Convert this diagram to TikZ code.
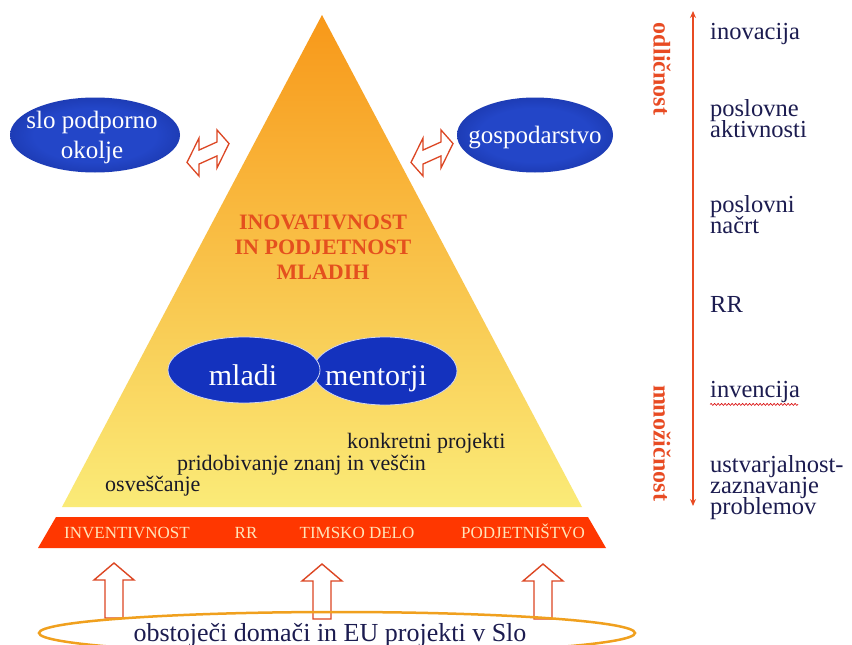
\documentclass[tikz,border=0pt]{standalone}
\usepackage{fontspec}
\setmainfont{Liberation Serif}
\usetikzlibrary{arrows.meta,decorations.pathmorphing,shapes.geometric}
\definecolor{triTop}{RGB}{248,152,25}
\definecolor{triBot}{RGB}{250,235,120}
\definecolor{bandRed}{RGB}{255,55,0}
\definecolor{bandTxt}{RGB}{255,228,185}
\definecolor{blueC}{RGB}{35,70,200}
\definecolor{blueE}{RGB}{10,25,115}
\definecolor{blueSolid}{RGB}{20,50,190}
\definecolor{arrRed}{RGB}{220,70,35}
\definecolor{lineRed}{RGB}{232,75,35}
\definecolor{titleRed}{RGB}{228,80,30}
\definecolor{navyTxt}{RGB}{28,28,80}
\definecolor{darkTxt}{RGB}{25,25,40}
\definecolor{ringOr}{RGB}{240,160,30}
\pgfdeclareradialshading{blueglow}{\pgfpoint{0bp}{0bp}}{color(0bp)=(blueC); color(18bp)=(blueC); color(50bp)=(blueE)}
\begin{document}
\begin{tikzpicture}[x=1pt,y=-1pt,
  blueell/.style={ellipse, shade, shading=blueglow, draw=none, inner sep=0pt},
  solidell/.style={ellipse, fill=blueSolid, draw=white!80!blueSolid, line width=0.8pt, inner sep=0pt},
  elltxt/.style={text=white, inner sep=0pt, anchor=base},
  bandtxt/.style={text=bandTxt, font=\fontsize{17}{17}\selectfont, inner sep=0pt, anchor=base},
  trtxt/.style={text=darkTxt, font=\fontsize{22}{22}\selectfont, inner sep=0pt, anchor=base west},
  titletxt/.style={text=titleRed, font=\bfseries\fontsize{22}{22}\selectfont, inner sep=0pt, anchor=base},
  rlabel/.style={text=navyTxt, font=\fontsize{24.5}{24.5}\selectfont, inner sep=0pt, anchor=base west},
  vlabel/.style={text=lineRed, font=\bfseries\fontsize{24}{24}\selectfont, rotate=-90, inner sep=0pt},
  hollow/.style={draw=arrRed, line width=1.4pt, fill=white, line join=miter},
  uparrow/.pic={\draw[hollow] (0,0) -- (20,17) -- (9,17) -- (9,55) -- (-9,55) -- (-9,17) -- (-20,17) -- cycle;},
  dblarrow/.pic={\draw[hollow, line width=1.3pt] (-21,0) -- (-9,-19) -- (-9,-7) -- (9,-7) -- (9,-19) -- (21,0) -- (9,19) -- (9,7) -- (-9,7) -- (-9,19) -- cycle;},
]
\useasboundingbox (0,0) rectangle (852,645);
\fill[white] (0,0) rectangle (852,645);
\begin{scope}
\clip (0,0) rectangle (852,645);

% pyramid
\shade[top color=triTop, bottom color=triBot] (322,15) -- (582,507) -- (62,507) -- cycle;

% title
\node[titletxt] (t1) at (323,229) {INOVATIVNOST};
\node[titletxt] (t2) at (323,254) {IN PODJETNOST};
\node[titletxt] (t3) at (323,279) {MLADIH};

% mladi / mentorji
\node[solidell, minimum width=144pt, minimum height=68pt] (ment) at (385,371) {};
\node[solidell, minimum width=152pt, minimum height=66pt] (mladi) at (244,370) {};
\node[elltxt, font=\fontsize{30}{30}\selectfont] (mladiT) at (243,385) {mladi};
\node[elltxt, font=\fontsize{30}{30}\selectfont] (mentT) at (376,385) {mentorji};

% levels
\node[trtxt] (konk) at (347,448) {konkretni projekti};
\node[trtxt] (prid) at (177,470) {pridobivanje znanj in veščin};
\node[trtxt] (osve) at (105,491) {osveščanje};

% red band
\fill[bandRed] (56,517) -- (588,517) -- (606,548) -- (38,548) -- cycle;
\node[bandtxt] (b1) at (127,538) {INVENTIVNOST};
\node[bandtxt] (b2) at (246,538) {RR};
\node[bandtxt] (b3) at (357,538) {TIMSKO DELO};
\node[bandtxt] (b4) at (523,538) {PODJETNIŠTVO};

% up arrows
\pic at (114,563) {uparrow};
\pic at (322,564) {uparrow};
\pic at (543,564) {uparrow};

% bottom ellipse
\node[ellipse, draw=ringOr, line width=2.5pt, minimum width=596pt, minimum height=42pt, inner sep=0pt] (proj) at (337,633) {};
\node[anchor=base, inner sep=0pt, text=navyTxt, font=\fontsize{26}{26}\selectfont] (projT) at (330,641) {obstoječi domači in EU projekti v Slo};

% side ellipses
\node[blueell, minimum width=170pt, minimum height=75pt] (slo) at (95,135) {};
\node[elltxt, font=\fontsize{25}{25}\selectfont] (sloT1) at (92,128) {slo podporno};
\node[elltxt, font=\fontsize{25}{25}\selectfont] (sloT2) at (92,158) {okolje};
\node[blueell, minimum width=156pt, minimum height=75pt] (gosp) at (535,135) {};
\node[elltxt, font=\fontsize{25}{25}\selectfont] (gospT) at (535,143) {gospodarstvo};

% double arrows
\pic[yslant=0.45] at (208,153) {dblarrow};
\pic[yslant=0.45] at (432,153) {dblarrow};

% right scale
\coordinate (stop) at (693,11);
\coordinate (sbot) at (693,506);
\draw[lineRed, line width=1.3pt, {Stealth[length=7pt,width=6pt]}-{Stealth[length=7pt,width=6pt]}] (stop) -- (sbot);
\node[vlabel] (odl) at (662,69) {odličnost};
\node[vlabel] (mno) at (662,443) {množičnost};

\node[rlabel] (r1) at (710,39) {inovacija};
\node[rlabel] (r2a) at (710,116) {poslovne};
\node[rlabel] (r2b) at (710,137) {aktivnosti};
\node[rlabel] (r3a) at (710,212) {poslovni};
\node[rlabel] (r3b) at (710,233) {načrt};
\node[rlabel] (r4) at (710,312) {RR};
\node[rlabel] (r5) at (710,397) {invencija};
\draw[red!85!black, line width=0.6pt, decorate, decoration={snake, amplitude=1pt, segment length=3.5pt}] (r5.south west) ++(0,2) -- ++(88,0);
\node[rlabel] (r6a) at (710,472) {ustvarjalnost-};
\node[rlabel] (r6b) at (710,493) {zaznavanje};
\node[rlabel] (r6c) at (710,514) {problemov};
\end{scope}
\end{tikzpicture}
\end{document}
